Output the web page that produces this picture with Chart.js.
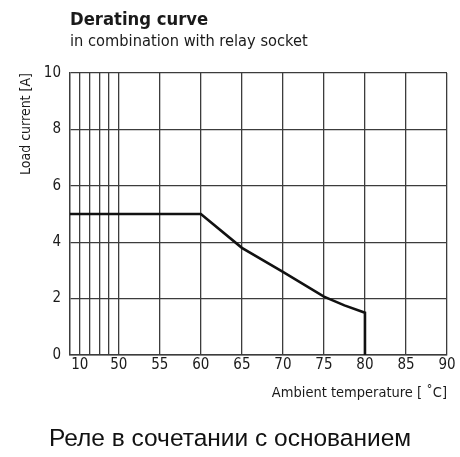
<!DOCTYPE html>
<html>
<head>
<meta charset="utf-8">
<script src="https://cdn.jsdelivr.net/npm/chart.js@4"></script>
<style>
  html, body { margin: 0; padding: 0; background: #fff; }
  #wrap { position: relative; width: 460px; height: 457px; }
  #chart { position: absolute; left: 0; top: 0; }
  .head { position: absolute; left: 70px; color: #1a1a1a; font-family: "DejaVu Sans Condensed", "DejaVu Sans", sans-serif; font-stretch: condensed; white-space: nowrap; }
  #title { top: 8px; font-size: 18.3px; font-weight: bold; }
  #subtitle { top: 31px; font-size: 16.3px; }
  #caption { position: absolute; left: 0; width: 460px; top: 424px; text-align: center; font-family: "Liberation Sans", Arial, sans-serif; font-size: 24.5px; color: #111; }
</style>
</head>
<body>
<div id="wrap">
  <canvas id="chart" width="460" height="457"></canvas>
  <div class="head" id="title">Derating curve</div>
  <div class="head" id="subtitle">in combination with relay socket</div>
  <div id="caption">Реле в сочетании с основанием</div>
</div>
<script>
// grid temperatures on the x axis (10..50 is squeezed into a narrow band)
const gridTemps = [10, 20, 30, 40, 50, 55, 60, 65, 70, 75, 80, 85, 90];
const xTickLabels = ["10", "", "", "", "50", "55", "60", "65", "70", "75", "80", "85", "90"];
const yTicks = [0, 2, 4, 6, 8, 10];

// derating curve
const tempC = [0, 60, 65, 70, 75, 77.5, 80, 80];
const loadA = [5, 5, 3.8, 2.95, 2.07, 1.76, 1.5, 0];

const SQUEEZE = 0.119; // scale factor of the 0..50 band
const BREAK_AT = 50;
function axisPos(t) {
  return t >= BREAK_AT ? t : BREAK_AT - (BREAK_AT - t) * SQUEEZE;
}

const FONT = "'DejaVu Sans Condensed', 'DejaVu Sans', sans-serif";
const INK = "#1a1a1a";
const GRID = "#3c3c3c";

const ctx = document.getElementById("chart").getContext("2d");

new Chart(ctx, {
  type: "line",
  data: {
    datasets: [{
      data: tempC.map((t, i) => ({ x: axisPos(t), y: loadA[i] })),
      borderColor: "#111",
      borderWidth: 2.6,
      pointRadius: 0,
      tension: 0,
      fill: false
    }]
  },
  options: {
    responsive: false,
    animation: false,
    devicePixelRatio: 1,
    layout: { padding: { left: 10, top: 73, right: 13, bottom: 42 } },
    plugins: { legend: { display: false }, tooltip: { enabled: false } },
    scales: {
      x: {
        type: "linear",
        min: axisPos(0),
        max: 90,
        afterBuildTicks: (scale) => {
          scale.ticks = gridTemps.map(t => ({ value: axisPos(t) }));
        },
        afterFit: (scale) => { scale.height = 60; },
        ticks: {
          autoSkip: false,
          maxRotation: 0,
          padding: 1,
          color: INK,
          font: { family: FONT, size: 15 },
          callback: (v, i) => xTickLabels[i]
        },
        grid: { color: GRID, lineWidth: 1.3, drawTicks: false },
        border: { color: GRID, width: 1.5 },
        title: {
          display: true,
          text: "Ambient temperature [ ˚C]",
          align: "end",
          color: INK,
          font: { family: FONT, size: 14.5 },
          padding: { top: 0, bottom: 13 }
        }
      },
      y: {
        min: 0,
        max: 10,
        afterBuildTicks: (scale) => {
          scale.ticks = yTicks.map(v => ({ value: v }));
        },
        afterFit: (scale) => { scale.width = 60; },
        ticks: {
          padding: 9,
          color: INK,
          font: { family: FONT, size: 15 }
        },
        grid: { color: GRID, lineWidth: 1.3, drawTicks: false },
        border: { color: GRID, width: 1.5 },
        title: {
          display: true,
          text: "Load current [A]",
          align: "end",
          color: INK,
          font: { family: FONT, size: 14 },
          padding: { top: 8, bottom: 0 }
        }
      }
    }
  }
});
</script>
</body>
</html>
